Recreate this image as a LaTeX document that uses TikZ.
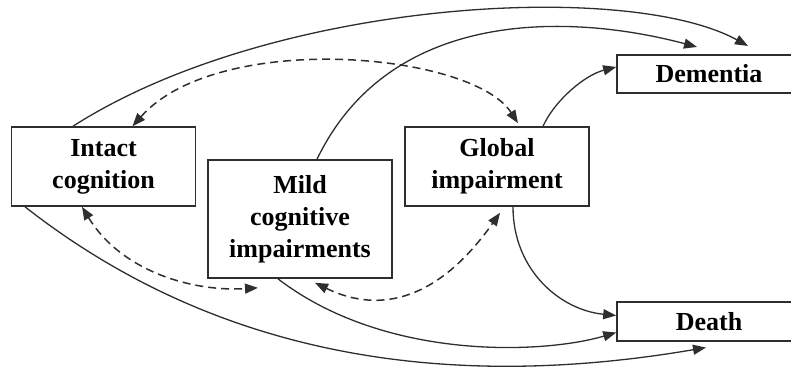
\documentclass[tikz,border=0pt]{standalone}
\usepackage{fontspec}
\setmainfont{Liberation Serif}
\usepackage{tikz}
\usetikzlibrary{arrows.meta}
\definecolor{linegray}{HTML}{2E2E2E}
\tikzset{
	stage/.style    = {draw=linegray, line width=1.6pt, rectangle, inner sep=0pt,
		minimum width=184pt, align=center, font=\bfseries\fontsize{26}{32}\selectfont},
	tall/.style     = {stage, minimum height=79pt}, % two lines
	taller/.style   = {stage, minimum height=118pt}, % three lines
	flat/.style     = {stage, minimum height=38.5pt}, % one line
	move/.style     = {draw=linegray, line width=1.3pt, ->},
	swap/.style     = {draw=linegray, line width=1.5pt, <->, dash pattern=on 8pt off 5pt}
}

\begin{document}
\begin{tikzpicture}[x=1pt, y=-1pt, >={Triangle[length=13pt,width=10pt]}]
	\useasboundingbox (0,0) rectangle (791,372);
	\draw
	node at (103.5,166.5) [tall] (intact) {Intact\\cognition}
	node at (300,219) [taller] (mild) {Mild\\cognitive\\impairments}
	node at (497,166.5) [tall] (global) {Global\\impairment}
	node at (709,74) [flat] (dementia) {Dementia}
	node at (709,321.5) [flat] (death) {Death};

	% forward transitions
	\draw[move] ([xshift=-30.5pt]intact.north) .. controls (272,-1) and (628,-20) .. ([xshift=39pt,yshift=8pt]dementia.north);
	\draw[move] ([xshift=17pt]mild.north) .. controls (392,4) and (577,15) .. ([xshift=-12pt,yshift=7pt]dementia.north);
	\draw[move] ([xshift=46pt]global.north) .. controls (555,100) and (585,75) .. ([yshift=7pt]dementia.west);
	\draw[move] ([xshift=16pt]global.south) .. controls (513,270) and (560,310) .. ([yshift=6pt]death.west);
	\draw[move] ([xshift=-22pt]mild.south) .. controls (385,361) and (543,354) .. ([yshift=-11pt]death.west);
	\draw[move] ([xshift=-78.5pt]intact.south) .. controls (227,365) and (463,389) .. ([xshift=-3pt,yshift=-6pt]death.south);

	% two-way moves between states
	\draw[swap] ([xshift=29pt]intact.north) .. controls (218,30) and (472,52) .. ([xshift=21pt,yshift=3pt]global.north);
	\draw[swap] ([xshift=-21.5pt]intact.south) .. controls (121,271) and (192,292) .. ([xshift=-42pt,yshift=-9pt]mild.south);
	\draw[swap] ([xshift=15pt,yshift=-4pt]mild.south) .. controls (381.6,315.3) and (440,298) .. ([xshift=3pt,yshift=-6pt]global.south);
\end{tikzpicture}
\end{document}
